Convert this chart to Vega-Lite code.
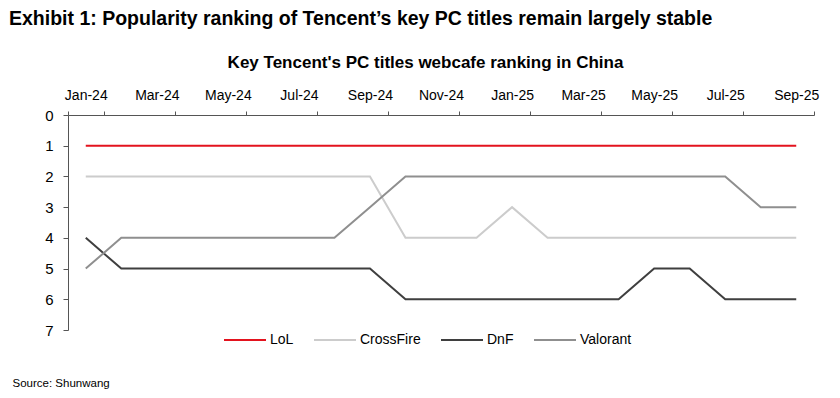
{
  "$schema": "https://vega.github.io/schema/vega-lite/v6.json",
  "width": 746,
  "height": 215,
  "autosize": {"type": "none"},
  "padding": {"left": 68, "top": 115, "right": 26, "bottom": 68},
  "background": "white",
  "title": {
    "text": "Exhibit 1: Popularity ranking of Tencent’s key PC titles remain largely stable",
    "anchor": "start",
    "frame": "group",
    "dx": -59,
    "offset": 24,
    "font": "Liberation Sans",
    "fontSize": 19.5,
    "fontWeight": "bold",
    "color": "#000000"
  },
  "data": {
    "values": [
      {"month": "Jan-24", "game": "LoL", "rank": 1}, {"month": "Feb-24", "game": "LoL", "rank": 1}, {"month": "Mar-24", "game": "LoL", "rank": 1}, {"month": "Apr-24", "game": "LoL", "rank": 1}, {"month": "May-24", "game": "LoL", "rank": 1}, {"month": "Jun-24", "game": "LoL", "rank": 1}, {"month": "Jul-24", "game": "LoL", "rank": 1}, {"month": "Aug-24", "game": "LoL", "rank": 1}, {"month": "Sep-24", "game": "LoL", "rank": 1}, {"month": "Oct-24", "game": "LoL", "rank": 1}, {"month": "Nov-24", "game": "LoL", "rank": 1}, {"month": "Dec-24", "game": "LoL", "rank": 1}, {"month": "Jan-25", "game": "LoL", "rank": 1}, {"month": "Feb-25", "game": "LoL", "rank": 1}, {"month": "Mar-25", "game": "LoL", "rank": 1}, {"month": "Apr-25", "game": "LoL", "rank": 1}, {"month": "May-25", "game": "LoL", "rank": 1}, {"month": "Jun-25", "game": "LoL", "rank": 1}, {"month": "Jul-25", "game": "LoL", "rank": 1}, {"month": "Aug-25", "game": "LoL", "rank": 1}, {"month": "Sep-25", "game": "LoL", "rank": 1},
      {"month": "Jan-24", "game": "CrossFire", "rank": 2}, {"month": "Feb-24", "game": "CrossFire", "rank": 2}, {"month": "Mar-24", "game": "CrossFire", "rank": 2}, {"month": "Apr-24", "game": "CrossFire", "rank": 2}, {"month": "May-24", "game": "CrossFire", "rank": 2}, {"month": "Jun-24", "game": "CrossFire", "rank": 2}, {"month": "Jul-24", "game": "CrossFire", "rank": 2}, {"month": "Aug-24", "game": "CrossFire", "rank": 2}, {"month": "Sep-24", "game": "CrossFire", "rank": 2}, {"month": "Oct-24", "game": "CrossFire", "rank": 4}, {"month": "Nov-24", "game": "CrossFire", "rank": 4}, {"month": "Dec-24", "game": "CrossFire", "rank": 4}, {"month": "Jan-25", "game": "CrossFire", "rank": 3}, {"month": "Feb-25", "game": "CrossFire", "rank": 4}, {"month": "Mar-25", "game": "CrossFire", "rank": 4}, {"month": "Apr-25", "game": "CrossFire", "rank": 4}, {"month": "May-25", "game": "CrossFire", "rank": 4}, {"month": "Jun-25", "game": "CrossFire", "rank": 4}, {"month": "Jul-25", "game": "CrossFire", "rank": 4}, {"month": "Aug-25", "game": "CrossFire", "rank": 4}, {"month": "Sep-25", "game": "CrossFire", "rank": 4},
      {"month": "Jan-24", "game": "DnF", "rank": 4}, {"month": "Feb-24", "game": "DnF", "rank": 5}, {"month": "Mar-24", "game": "DnF", "rank": 5}, {"month": "Apr-24", "game": "DnF", "rank": 5}, {"month": "May-24", "game": "DnF", "rank": 5}, {"month": "Jun-24", "game": "DnF", "rank": 5}, {"month": "Jul-24", "game": "DnF", "rank": 5}, {"month": "Aug-24", "game": "DnF", "rank": 5}, {"month": "Sep-24", "game": "DnF", "rank": 5}, {"month": "Oct-24", "game": "DnF", "rank": 6}, {"month": "Nov-24", "game": "DnF", "rank": 6}, {"month": "Dec-24", "game": "DnF", "rank": 6}, {"month": "Jan-25", "game": "DnF", "rank": 6}, {"month": "Feb-25", "game": "DnF", "rank": 6}, {"month": "Mar-25", "game": "DnF", "rank": 6}, {"month": "Apr-25", "game": "DnF", "rank": 6}, {"month": "May-25", "game": "DnF", "rank": 5}, {"month": "Jun-25", "game": "DnF", "rank": 5}, {"month": "Jul-25", "game": "DnF", "rank": 6}, {"month": "Aug-25", "game": "DnF", "rank": 6}, {"month": "Sep-25", "game": "DnF", "rank": 6},
      {"month": "Jan-24", "game": "Valorant", "rank": 5}, {"month": "Feb-24", "game": "Valorant", "rank": 4}, {"month": "Mar-24", "game": "Valorant", "rank": 4}, {"month": "Apr-24", "game": "Valorant", "rank": 4}, {"month": "May-24", "game": "Valorant", "rank": 4}, {"month": "Jun-24", "game": "Valorant", "rank": 4}, {"month": "Jul-24", "game": "Valorant", "rank": 4}, {"month": "Aug-24", "game": "Valorant", "rank": 4}, {"month": "Sep-24", "game": "Valorant", "rank": 3}, {"month": "Oct-24", "game": "Valorant", "rank": 2}, {"month": "Nov-24", "game": "Valorant", "rank": 2}, {"month": "Dec-24", "game": "Valorant", "rank": 2}, {"month": "Jan-25", "game": "Valorant", "rank": 2}, {"month": "Feb-25", "game": "Valorant", "rank": 2}, {"month": "Mar-25", "game": "Valorant", "rank": 2}, {"month": "Apr-25", "game": "Valorant", "rank": 2}, {"month": "May-25", "game": "Valorant", "rank": 2}, {"month": "Jun-25", "game": "Valorant", "rank": 2}, {"month": "Jul-25", "game": "Valorant", "rank": 2}, {"month": "Aug-25", "game": "Valorant", "rank": 3}, {"month": "Sep-25", "game": "Valorant", "rank": 3}
    ]
  },
  "mark": {"type": "line", "strokeWidth": 2},
  "encoding": {
    "x": {
      "field": "month",
      "type": "ordinal",
      "bandPosition": 0.5,
      "sort": ["Jan-24","Feb-24","Mar-24","Apr-24","May-24","Jun-24","Jul-24","Aug-24","Sep-24","Oct-24","Nov-24","Dec-24","Jan-25","Feb-25","Mar-25","Apr-25","May-25","Jun-25","Jul-25","Aug-25","Sep-25"],
      "scale": {"type": "band", "paddingInner": 0, "paddingOuter": 0},
      "axis": {
        "orient": "top",
        "title": "Key Tencent's PC titles webcafe ranking in China",
        "titleFont": "Liberation Sans",
        "titleFontSize": 17,
        "titleFontWeight": "bold",
        "titleColor": "#000000",
        "titlePadding": 17,
        "titleX": 357,
        "values": ["Jan-24","Mar-24","May-24","Jul-24","Sep-24","Nov-24","Jan-25","Mar-25","May-25","Jul-25","Sep-25"],
        "tickBand": "extent",
        "tickSize": 4,
        "tickColor": "#555555",
        "domainColor": "#555555",
        "labelAngle": 0,
        "labelFont": "Liberation Sans",
        "labelFontSize": 14,
        "labelColor": "#000000",
        "labelPadding": 9,
        "grid": false
      }
    },
    "y": {
      "field": "rank",
      "type": "quantitative",
      "scale": {"domain": [0, 7], "reverse": true, "nice": false},
      "axis": {
        "values": [0, 1, 2, 3, 4, 5, 6, 7],
        "grid": false,
        "tickSize": 5,
        "tickColor": "#555555",
        "domainColor": "#555555",
        "labelFont": "Liberation Sans",
        "labelFontSize": 15,
        "labelColor": "#000000",
        "labelPadding": 10,
        "title": "Source: Shunwang",
        "titleAngle": 0,
        "titleAlign": "left",
        "titleBaseline": "middle",
        "titleX": -56,
        "titleY": 268,
        "titleFont": "Liberation Sans",
        "titleFontSize": 11.5,
        "titleFontWeight": "normal",
        "titleColor": "#000000"
      }
    },
    "color": {
      "field": "game",
      "type": "nominal",
      "sort": ["LoL", "CrossFire", "DnF", "Valorant"],
      "scale": {"domain": ["LoL", "CrossFire", "DnF", "Valorant"], "range": ["#e3131e", "#cccccc", "#3f3f3f", "#8f8f8f"]},
      "legend": {
        "title": null,
        "orient": "none",
        "direction": "horizontal",
        "legendX": 155,
        "legendY": 203,
        "padding": 0,
        "symbolType": "stroke",
        "symbolSize": 1764,
        "symbolStrokeWidth": 2,
        "labelOffset": 3,
        "columnPadding": 16,
        "labelFont": "Liberation Sans",
        "labelFontSize": 14,
        "labelColor": "#000000"
      }
    }
  },
  "config": {"view": {"stroke": null}}
}
